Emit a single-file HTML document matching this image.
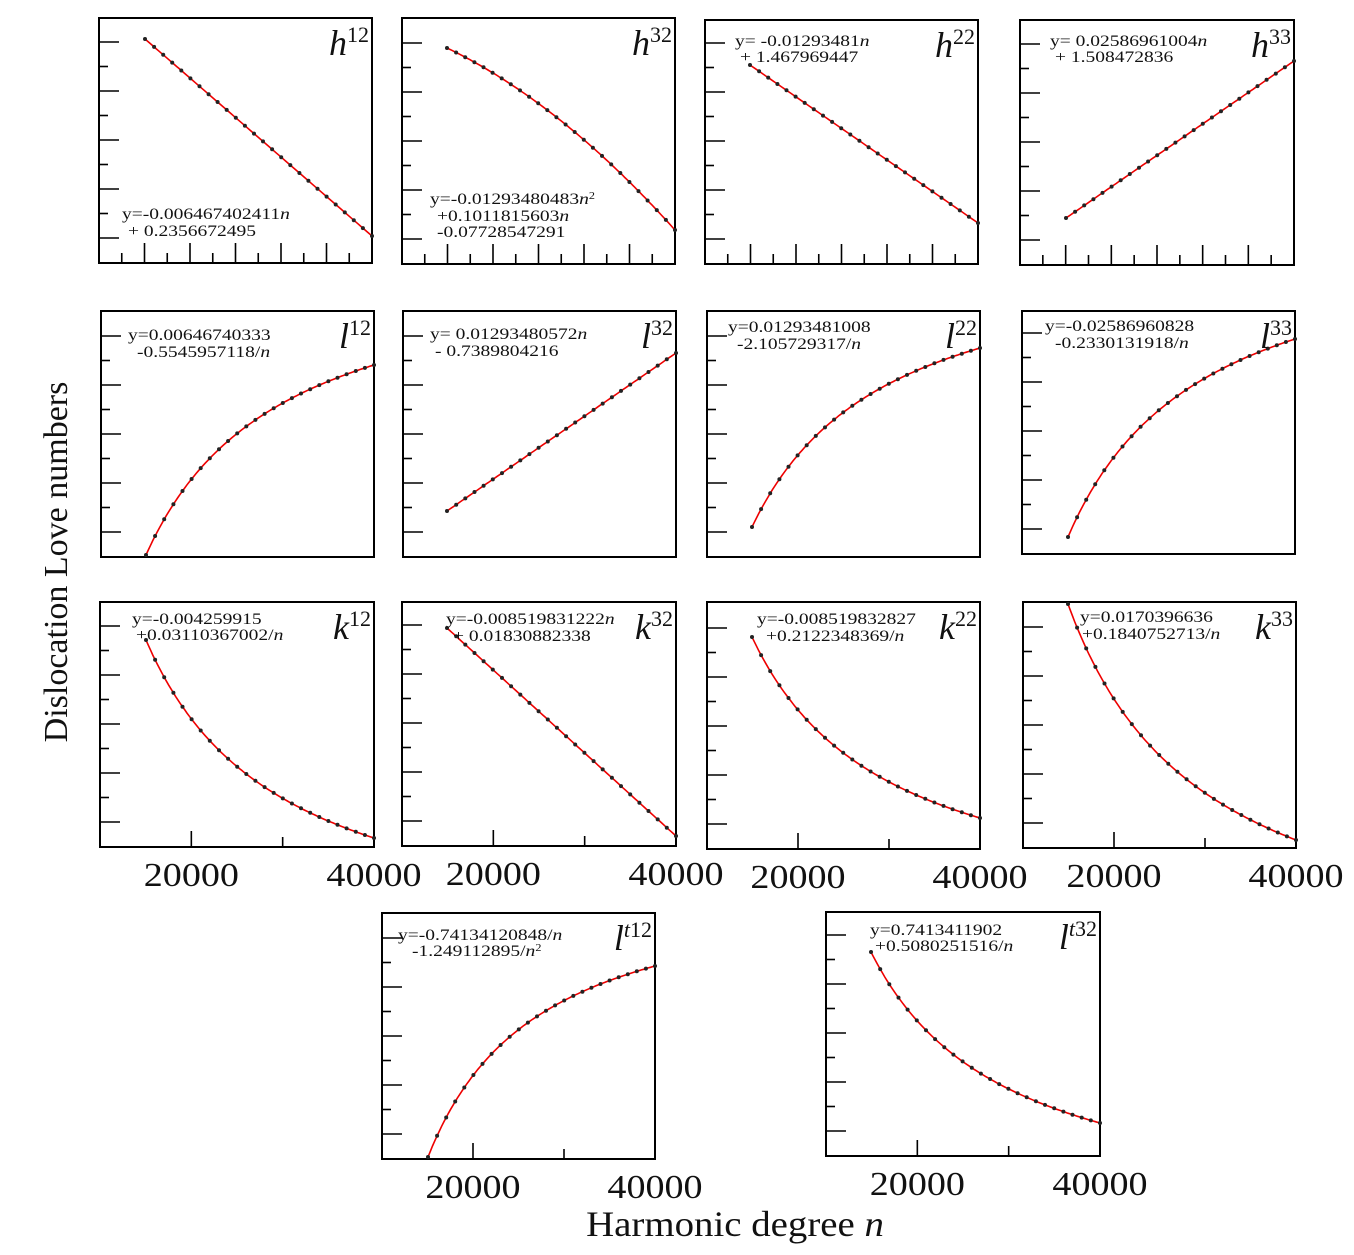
<!DOCTYPE html>
<html><head><meta charset="utf-8">
<style>
html,body{margin:0;padding:0;background:#fff;}
svg{display:block;}
text{font-family:"Liberation Serif",serif;fill:#111;}
</style></head>
<body>
<svg id="s" width="1354" height="1255" xmlns="http://www.w3.org/2000/svg"></svg>
<script>
const P=[
 {b:[99,18,372,263],t:'lin',s:[145,39],e:[372,236],ti:'h',sup:'12',xt:'row1',eq:[[122,219,'y=-0.006467402411<tspan font-style="italic">n</tspan>'],[128,236,'+ 0.2356672495']]},
 {b:[402,18,675,264],t:'quad',s:[447,48],e:[675,230],ti:'h',sup:'32',xt:'row1',eq:[[430,204,'y=-0.01293480483<tspan font-style="italic">n</tspan><tspan dy="-5" font-size="10">2</tspan>'],[437,221,'<tspan dy="5">+0.1011815603</tspan><tspan font-style="italic">n</tspan>'],[437,237,'-0.07728547291']]},
 {b:[705,20,978,264],t:'lin',s:[750,65],e:[978,223],ti:'h',sup:'22',xt:'row1',eq:[[735,46,'y= -0.01293481<tspan font-style="italic">n</tspan>'],[740,62,'+ 1.467969447']]},
 {b:[1020,20,1294,265],t:'lin',s:[1066,218],e:[1294,61],ti:'h',sup:'33',xt:'row1',eq:[[1050,46,'y= 0.02586961004<tspan font-style="italic">n</tspan>'],[1055,62,'+ 1.508472836']]},
 {b:[101,311,374,557],t:'inv',s:[146,555],e:[374,365],ti:'l',sup:'12',xt:'none',eq:[[128,340,'y=0.00646740333'],[137,357,'-0.5545957118/<tspan font-style="italic">n</tspan>']]},
 {b:[403,311,676,557],t:'lin',s:[447,511],e:[676,353],ti:'l',sup:'32',xt:'none',eq:[[430,339,'y= 0.01293480572<tspan font-style="italic">n</tspan>'],[435,356,'- 0.7389804216']]},
 {b:[707,311,980,557],t:'inv',s:[752,527],e:[980,348],ti:'l',sup:'22',xt:'none',eq:[[728,332,'y=0.01293481008'],[737,349,'-2.105729317/<tspan font-style="italic">n</tspan>']]},
 {b:[1022,311,1295,554],t:'inv',s:[1068,537],e:[1295,339],ti:'l',sup:'33',xt:'none',eq:[[1045,331,'y=-0.02586960828'],[1055,348,'-0.2330131918/<tspan font-style="italic">n</tspan>']]},
 {b:[100,602,374,847],t:'inv',s:[146,640],e:[374,838],ti:'k',sup:'12',xt:'row3',eq:[[132,624,'y=-0.004259915'],[136,640,'+0.03110367002/<tspan font-style="italic">n</tspan>']]},
 {b:[402,602,676,846],t:'lin',s:[447,628],e:[676,836],ti:'k',sup:'32',xt:'row3',eq:[[446,624,'y=-0.008519831222<tspan font-style="italic">n</tspan>'],[453,641,'+ 0.01830882338']]},
 {b:[707,602,980,849],t:'inv',s:[752,637],e:[980,818],ti:'k',sup:'22',xt:'row3',eq:[[757,624,'y=-0.008519832827'],[766,641,'+0.2122348369/<tspan font-style="italic">n</tspan>']]},
 {b:[1023,602,1296,848],t:'inv',s:[1068,604],e:[1296,840],ti:'k',sup:'33',xt:'row3',eq:[[1080,622,'y=0.0170396636'],[1082,639,'+0.1840752713/<tspan font-style="italic">n</tspan>']]},
 {b:[382,913,655,1159],t:'inv2',s:[428,1157],e:[655,966],ti:'l',sup:'t12',xt:'row3',eq:[[398,940,'y=-0.74134120848/<tspan font-style="italic">n</tspan>'],[412,956,'-1.249112895/<tspan font-style="italic">n</tspan><tspan dy="-5" font-size="10">2</tspan>']]},
 {b:[826,912,1100,1156],t:'inv',s:[871,952],e:[1100,1123],ti:'l',sup:'t32',xt:'row3',eq:[[870,935,'y=0.7413411902'],[875,951,'+0.5080251516/<tspan font-style="italic">n</tspan>']]}
];
let h='';
function g(type,n){
 const t=(n-15000)/25000;
 if(type==='lin')return t;
 if(type==='quad')return 0.6*t+0.4*t*t;
 if(type==='inv')return 1-(1/n-1/40000)/(1/15000-1/40000);
 if(type==='inv2'){const f=x=>-1/x-4000/(x*x);return (f(n)-f(15000))/(f(40000)-f(15000));}
}
P.forEach(p=>{
 const [x0,y0,x1,y1]=p.b;
 h+=`<rect x="${x0}" y="${y0}" width="${x1-x0}" height="${y1-y0}" fill="none" stroke="#000" stroke-width="2"/>`;
 let k=0;
 for(let y=y1-25;y>y0+10;y-=24.5){const L=(k%2==0)?20:9;h+=`<line x1="${x0}" x2="${x0+L}" y1="${y}" y2="${y}" stroke="#000" stroke-width="1.6"/>`;k++;}
 const sx=(x1-x0)/30000;
 if(p.xt==='row1'){
  let i=0;for(let n=12500;n<40000;n+=2500){const x=x0+(n-10000)*sx;const L=(i%2==1)?20:10;h+=`<line x1="${x}" x2="${x}" y1="${y1}" y2="${y1-L}" stroke="#000" stroke-width="1.6"/>`;i++;}
 }
 if(p.xt==='row3'){
  [[20000,16],[30000,10]].forEach(([n,L])=>{const x=x0+(n-10000)*sx;h+=`<line x1="${x}" x2="${x}" y1="${y1}" y2="${y1-L}" stroke="#000" stroke-width="1.6"/>`;});
  h+=`<text transform="translate(${x0+10000*sx},${y1+39}) scale(1.12,1)" font-size="34" text-anchor="middle">20000</text>`;
  h+=`<text transform="translate(${x1},${y1+39}) scale(1.12,1)" font-size="34" text-anchor="middle">40000</text>`;
 }
 let pts=[],dots='';
 for(let n=15000;n<=40000;n+=250){const f=g(p.t,n);pts.push(`${(p.s[0]+(p.e[0]-p.s[0])*(n-15000)/25000).toFixed(1)},${(p.s[1]+(p.e[1]-p.s[1])*f).toFixed(1)}`);}
 for(let n=15000;n<=40000;n+=1000){const f=g(p.t,n);dots+=`<circle cx="${(p.s[0]+(p.e[0]-p.s[0])*(n-15000)/25000).toFixed(1)}" cy="${(p.s[1]+(p.e[1]-p.s[1])*f).toFixed(1)}" r="2" fill="#222"/>`;}
 h+=`<polyline points="${pts.join(' ')}" fill="none" stroke="#e00" stroke-width="1.6"/>`+dots;
 p.eq.forEach(([x,y,s])=>{h+=`<text transform="translate(${x},${y}) scale(1.22,1)" font-size="16">${s.replace('<tspan dy="5">','<tspan>')}</text>`;});
 h+=`<text x="${x1-3}" y="${y0+37}" font-size="36" text-anchor="end"><tspan font-style="italic">${p.ti}</tspan><tspan dy="-13" font-size="22">${p.sup.replace('t','<tspan font-style="italic">t</tspan>')}</tspan></text>`;
});
h+=`<text transform="translate(67,562) rotate(-90)" font-size="34" text-anchor="middle">Dislocation Love numbers</text>`;
h+=`<text transform="translate(735,1236) scale(1.08,1)" font-size="36" text-anchor="middle">Harmonic degree <tspan font-style="italic">n</tspan></text>`;
document.getElementById('s').innerHTML=h;
</script>
</body></html>
